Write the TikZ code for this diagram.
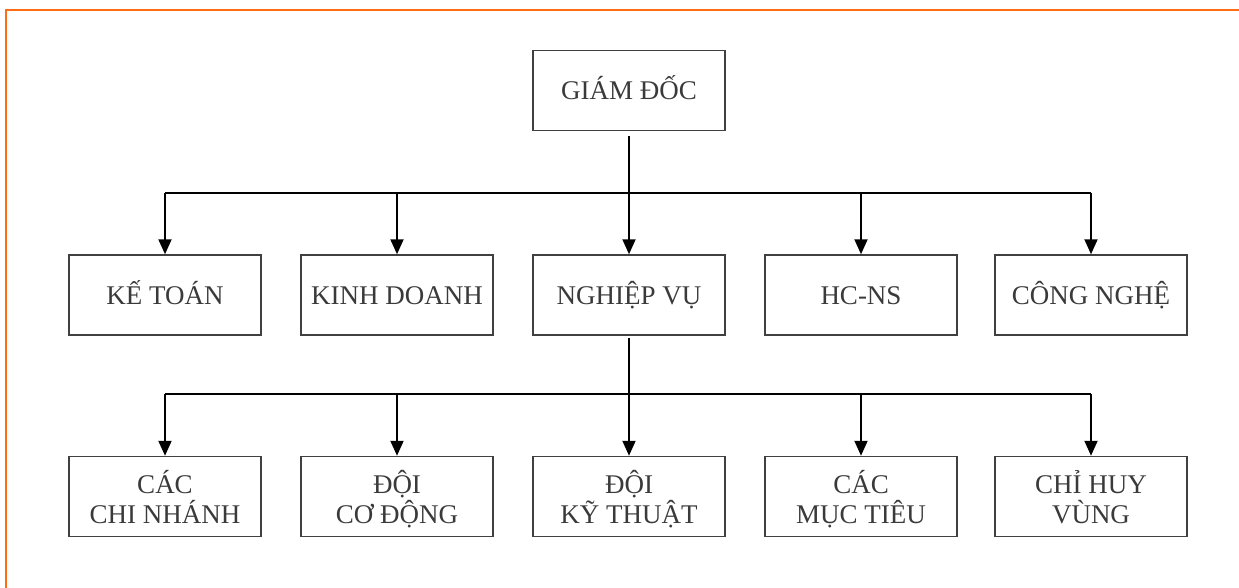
\documentclass[tikz,border=0pt]{standalone}
\usepackage{fontspec}
\setmainfont{Liberation Serif}
\usetikzlibrary{arrows.meta}
\definecolor{frameorange}{RGB}{255,108,20}
\definecolor{boxgray}{RGB}{64,64,64}
\definecolor{textgray}{RGB}{58,58,58}
\begin{document}
\begin{tikzpicture}[x=1pt,y=-1pt,
  box/.style={draw=boxgray,line width=1.5pt,minimum width=192pt,minimum height=80pt,
    inner sep=0pt,text=textgray,font=\fontsize{27}{30}\selectfont,align=center,
    text height=19pt,text depth=0pt},
  boxtwo/.style={box,text height=57pt,text depth=4pt},
  conn/.style={line width=2pt,black},
  arr/.style={conn,-{Triangle[width=13pt,length=15pt]}}]
\useasboundingbox (0,0) rectangle (1239,588);
\draw[frameorange,line width=2.2pt] (6,588) -- (6,10) -- (1239,10);

\node[box] (gd) at (629,90.5) {GIÁM ĐỐC};

\node[box] (kt) at (165,295) {KẾ TOÁN};
\node[box] (kd) at (397,295) {KINH DOANH};
\node[box] (nv) at (629,295) {NGHIỆP VỤ};
\node[box] (hc) at (861,295) {HC-NS};
\node[box] (cn) at (1091,295) {CÔNG NGHỆ};

\node[boxtwo] (chn) at (165,496.5) {\smash{CÁC}\\\smash{CHI NHÁNH}};
\node[boxtwo] (dcd) at (397,496.5) {\smash{ĐỘI}\\\smash{CƠ ĐỘNG}};
\node[boxtwo] (dkt) at (629,496.5) {\smash{ĐỘI}\\\smash{KỸ THUẬT}};
\node[boxtwo] (cmt) at (861,496.5) {\smash{CÁC}\\\smash{MỤC TIÊU}};
\node[boxtwo] (chv) at (1091,496.5) {\smash{CHỈ HUY}\\\smash{VÙNG}};

\coordinate (b1) at (629,193);
\coordinate (b2) at (629,394);

\draw[conn] (kt.north |- b1) -- (cn.north |- b1);
\draw[arr,shorten <=5pt] (gd.south) -- (nv.north);
\foreach \n in {kt,kd,hc,cn}{\draw[arr] (\n.north |- b1) -- (\n.north);}

\draw[conn] (chn.north |- b2) -- (chv.north |- b2);
\draw[arr,shorten <=2pt] (nv.south) -- (dkt.north);
\foreach \n in {chn,dcd,cmt,chv}{\draw[arr] (\n.north |- b2) -- (\n.north);}
\end{tikzpicture}
\end{document}
